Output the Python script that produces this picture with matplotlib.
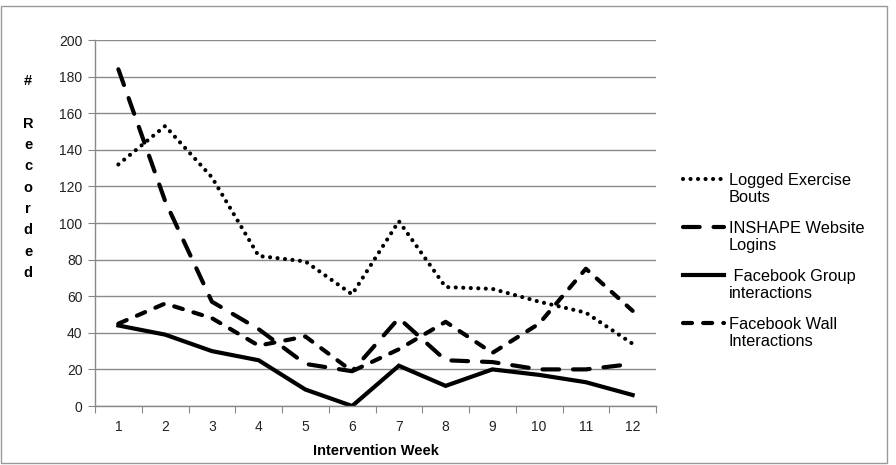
import matplotlib
matplotlib.use("Agg")
import numpy as np
import matplotlib.pyplot as plt
from matplotlib.patches import Rectangle
from matplotlib.lines import Line2D
from matplotlib.legend_handler import HandlerLine2D

plt.rcParams['font.family'] = ['Liberation Sans', 'DejaVu Sans']
plt.rcParams['lines.scale_dashes'] = False

weeks = [1, 2, 3, 4, 5, 6, 7, 8, 9, 10, 11, 12]
week_labels = [str(w) for w in weeks]
exercise_bouts = [132, 153, 125, 82, 79, 61, 101, 65, 64, 57, 51, 34]
website_logins = [184, 112, 57, 42, 23, 19, 48, 25, 24, 20, 20, 23]
group_interactions = [44, 39, 30, 25, 9, 0, 22, 11, 20, 17, 13, 6]
wall_interactions = [45, 56, 48, 33, 38, 19, 31, 46, 29, 45, 75, 52]
series_names = ["Logged Exercise\nBouts", "INSHAPE Website\nLogins",
                " Facebook Group\ninteractions", "Facebook Wall\nInteractions"]
y_ticks = list(range(0, 201, 20))


class UpHandler(HandlerLine2D):
    def create_artists(self, legend, orig_handle, xdescent, ydescent, width,
                       height, fontsize, trans):
        arts = super().create_artists(legend, orig_handle, xdescent, ydescent,
                                      width, height, fontsize, trans)
        for a in arts:
            a.set_ydata(np.asarray(a.get_ydata(), dtype=float) + 0.62 * fontsize)
        return arts


fig = plt.figure(figsize=(8.96, 4.65), dpi=100)
ax = fig.add_axes([95/896, 1-406/465, (656-95)/896, (406-40)/465])

lw = 3.0
l1, = ax.plot(weeks, exercise_bouts, color='black', lw=lw, dash_capstyle='round',
              label=series_names[0], linestyle=(0, (0.01, 5.4)))
l2, = ax.plot(weeks, website_logins, color='black', lw=lw, dash_capstyle='round',
              label=series_names[1], linestyle=(0, (12, 10)))
l3, = ax.plot(weeks, group_interactions, color='black', lw=lw, solid_joinstyle='miter',
              label=series_names[2])
l4, = ax.plot(weeks, wall_interactions, color='black', lw=lw, dash_capstyle='round',
              label=series_names[3], linestyle=(0, (6.5, 8)))

ax.set_xlim(0.5, 12.5)
ax.set_ylim(0, 200)
ax.set_yticks(y_ticks)
ax.set_yticklabels([str(v) for v in y_ticks], fontsize=10, color='#222222')
ax.set_xticks([w + 0.5 for w in [0] + weeks])
ax.set_xticklabels([])
ax.set_xticks(weeks, minor=True)
ax.set_xticklabels(week_labels, minor=True, fontsize=10, color='#222222')
ax.tick_params(axis='x', which='major', length=5, color='#888888', direction='out')
ax.tick_params(axis='x', which='minor', length=0, pad=10)
ax.tick_params(axis='y', length=5, color='#888888', direction='out', pad=4)
ax.yaxis.grid(True, color='#8a8a8a', lw=1)
ax.set_axisbelow(True)
for s in ['top', 'right']:
    ax.spines[s].set_visible(False)
for s in ['left', 'bottom']:
    ax.spines[s].set_color('#888888')
    ax.spines[s].set_linewidth(1)

ax.set_xlabel("Intervention Week", fontsize=10.5, fontweight='bold', labelpad=7)

fig.text(28/896, 1-177/465, "#\n\nR\ne\nc\no\nr\nd\ne\nd", ha='center', va='center',
         fontsize=10.5, fontweight='bold', linespacing=1.67, multialignment='center')

leg = fig.legend(handles=[l1, l2, l3, l4], loc='center left',
                 bbox_to_anchor=(683/896, 1-261/465), frameon=False,
                 fontsize=11.8, handlelength=2.5, handletextpad=0.3,
                 labelspacing=0.95, borderpad=0, borderaxespad=0,
                 handler_map={Line2D: UpHandler()})

fig.patches.append(Rectangle((1/896, 1-463/465), 886/896, 457/465, transform=fig.transFigure,
                             fill=False, edgecolor='#999999', lw=1))

fig.savefig("out.png", dpi=100)
